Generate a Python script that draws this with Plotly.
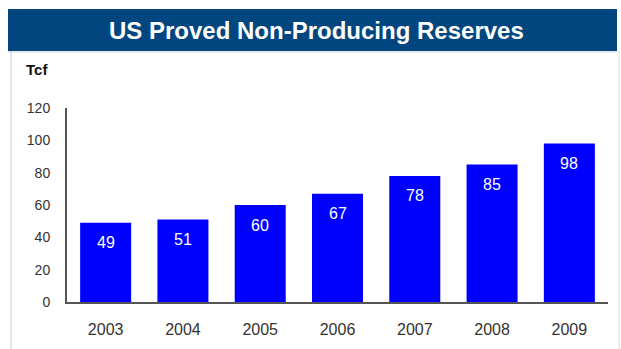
import plotly.graph_objects as go

years = ["2003", "2004", "2005", "2006", "2007", "2008", "2009"]
reserves = [49, 51, 60, 67, 78, 85, 98]
y_ticks = [0, 20, 40, 60, 80, 100, 120]
title_text = "US Proved Non-Producing Reserves"
unit_label = "Tcf"

W, H = 621, 349
ML, MR, MT, MB = 67, 13, 108, 47
PW, PH = W - ML - MR, H - MT - MB

def px(x):
    return (x - ML) / PW

def py(y):
    return (H - MB - y) / PH

FONT = "Liberation Sans, Arial, sans-serif"

fig = go.Figure()
fig.add_trace(go.Bar(
    x=years, y=reserves,
    marker=dict(color="#0000FF", line=dict(width=0)),
    hoverinfo="skip",
))

annotations = []
for i, v in enumerate(reserves):
    annotations.append(dict(
        x=i, y=v, xref="x", yref="y", text=str(v), showarrow=False,
        yshift=-20, font=dict(family=FONT, size=16, color="white"),
    ))
annotations.append(dict(
    x=px(316), y=py(30), xref="paper", yref="paper", text="<b>" + title_text + "</b>",
    showarrow=False, xanchor="center", yanchor="middle",
    font=dict(family=FONT, size=24, color="white"),
))
annotations.append(dict(
    x=px(37), y=py(69.5), xref="paper", yref="paper", text="<b>" + unit_label + "</b>",
    showarrow=False, xanchor="center", yanchor="middle",
    font=dict(family=FONT, size=15, color="#111111"),
))

shapes = [
    dict(type="rect", xref="paper", yref="paper", x0=px(8), x1=px(617), y0=py(51), y1=py(9),
         fillcolor="#02467F", line=dict(width=0), layer="below"),
    dict(type="line", xref="paper", yref="paper", x0=px(11), x1=px(11), y0=py(51), y1=py(349),
         line=dict(color="#DDDDDD", width=1.5)),
    dict(type="line", xref="paper", yref="paper", x0=px(619), x1=px(619), y0=py(51), y1=py(349),
         line=dict(color="#E4E4E4", width=1.5)),
    dict(type="line", xref="paper", yref="paper", x0=px(8), x1=px(617), y0=py(52), y1=py(52),
         line=dict(color="#C9D3DD", width=1)),
]

fig.update_layout(
    width=W, height=H,
    margin=dict(l=ML, r=MR, t=MT, b=MB, pad=0),
    paper_bgcolor="white", plot_bgcolor="white",
    showlegend=False, bargap=0.34,
    annotations=annotations, shapes=shapes,
    font=dict(family=FONT, color="#333333"),
)
fig.update_xaxes(
    type="category", range=[-0.5, 6.5], showgrid=False, zeroline=False,
    showline=True, linecolor="#555555", linewidth=2, ticks="",
    tickfont=dict(family=FONT, size=16, color="#333333"), ticklabelstandoff=12,
)
fig.update_yaxes(
    range=[0, 120], tickvals=y_ticks, showgrid=False, zeroline=False,
    showline=True, linecolor="#555555", linewidth=2, ticks="",
    tickfont=dict(family=FONT, size=14, color="#333333"), ticklabelstandoff=12,
)

fig.write_html("out.html", config={"displayModeBar": False})
